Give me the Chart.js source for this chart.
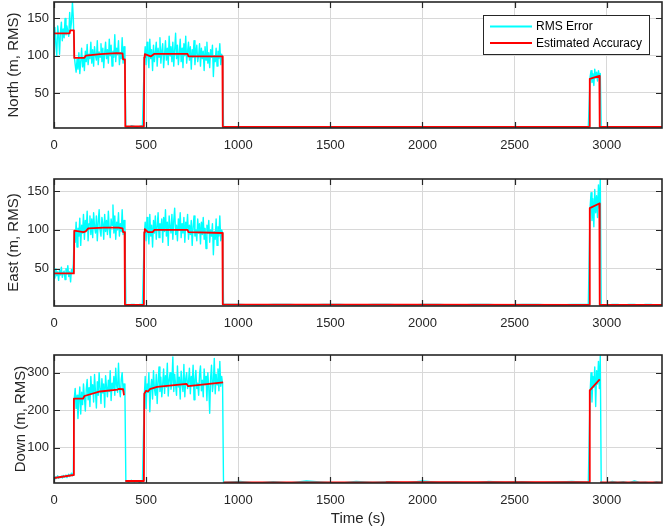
<!DOCTYPE html>
<html>
<head>
<meta charset="utf-8">
<title>Position error</title>
<script src="https://cdn.jsdelivr.net/npm/chart.js@4.4.1/dist/chart.umd.min.js"></script>
<style>
  html, body { margin: 0; padding: 0; background: #fff; }
  body { width: 663px; height: 529px; position: relative; overflow: hidden; }
  .panel { position: absolute; left: 0; width: 663px; }
</style>
</head>
<body>
<div class="panel" style="top:0;height:170px"><canvas id="north"></canvas></div>
<div class="panel" style="top:170px;height:170px"><canvas id="east"></canvas></div>
<div class="panel" style="top:340px;height:189px"><canvas id="down"></canvas></div>
<script>
// sample timeline (s): each RMS block starts at segStart[k] and is spaced segStep[k]
const segStart = [0, 110, 390, 490, 920, 2910, 2970];
const segStep = [5, 5, 15, 5, 90, 5, 30];

const timeTicks = [0, 500, 1000, 1500, 2000, 2500, 3000];
const northTicks = [50, 100, 150];
const eastTicks = [50, 100, 150];
const downTicks = [100, 200, 300];

// ---- North ----
const northRmsA = [122, 138, 115, 100, 140, 128, 102, 132, 145, 120, 136, 124, 150, 128, 140, 132, 126, 158, 135, 145, 172, 150];
const northRmsB = [100, 88, 78, 95, 82, 104, 76, 92, 110, 85, 98, 80, 106, 92, 115, 88, 102, 96, 118, 90,
  108, 86, 112, 100, 94, 120, 88, 105, 98, 116, 92, 110, 84, 104, 118, 96, 108, 90, 122, 100,
  114, 86, 106, 98, 128, 92, 110, 102, 120, 88, 104, 96, 124, 90, 112, 86];
const northRmsC = [95, 112, 88, 118, 100, 84, 122, 96, 108, 80, 114, 92, 104, 118, 86, 110, 98, 124, 90, 106,
  116, 84, 102, 120, 94, 110, 88, 126, 100, 112, 92, 118, 86, 108, 130, 96, 114, 88, 104, 122,
  92, 110, 84, 116, 100, 126, 90, 106, 118, 94, 112, 82, 108, 98, 120, 88, 104, 114, 92, 100,
  116, 86, 110, 96, 106, 80, 112, 94, 118, 90, 104, 84, 108, 98, 114, 72, 100, 92, 110, 86,
  106, 96, 116, 88, 102, 94];
const northRmsD = [72, 80, 64, 76, 60, 82, 70, 78, 66, 80, 74, 76];
const northFloor1 = [5, 4, 6, 5, 4, 5, 6];
const northFloor2 = [4, 3, 4, 3, 3, 4, 3, 4, 3, 3, 4, 3, 4, 3, 3, 4, 3, 4, 3, 3, 4, 3, 4];
const northFloor3 = [4, 3, 4, 3, 3, 4, 3, 4, 3, 3, 4, 3];
const northAccT = [0, 85, 88, 108, 110, 165, 172, 250, 340, 372, 375, 385, 387, 488, 490, 493, 525, 545, 725, 730, 914, 916, 2906, 2908, 2960, 2962, 3300];
const northAccV = [130, 130, 134, 134, 97, 97, 100, 102, 103.5, 103, 95, 95, 5, 5, 98, 102, 99, 102.5, 102.5, 99, 99, 4.5, 4.5, 69, 73, 4.5, 4.5];

// ---- East ----
const eastRmsA = [44, 38, 50, 41, 46, 35, 48, 42, 52, 39, 45, 47, 36, 50, 43, 54, 40, 46, 33, 49, 44, 56];
const eastRmsB = [98, 84, 110, 78, 102, 92, 115, 80, 106, 96, 120, 88, 112, 100, 124, 86, 108, 118, 94, 114,
  90, 122, 104, 96, 118, 86, 110, 126, 100, 92, 116, 108, 88, 120, 98, 112, 94, 124, 102, 90,
  114, 106, 132, 96, 118, 88, 110, 100, 122, 92, 108, 98, 126, 94, 112, 104];
const eastRmsC = [94, 110, 86, 116, 98, 82, 120, 92, 106, 78, 112, 96, 118, 88, 104, 122, 90, 108, 100, 114,
  84, 116, 98, 126, 92, 110, 80, 118, 104, 96, 120, 88, 112, 128, 94, 106, 86, 114, 100, 122,
  90, 108, 96, 116, 84, 110, 102, 120, 88, 106, 94, 112, 80, 104, 118, 92, 100, 86, 114, 96,
  108, 82, 110, 94, 116, 88, 102, 76, 106, 96, 112, 84, 100, 92, 108, 68, 98, 88, 114, 80,
  104, 92, 118, 86, 100, 96];
const eastRmsD = [130, 148, 112, 140, 104, 152, 122, 144, 116, 158, 128, 165];
const eastFloor1 = [4, 3, 4, 4, 3, 4, 4];
const eastFloor2 = [4, 4, 3, 4, 4, 3, 4, 4, 3, 4, 4, 3, 4, 4, 3, 4, 4, 3, 4, 4, 3, 4, 4];
const eastFloor3 = [4, 3, 4, 4, 3, 4, 4, 3, 4, 4, 3, 4];
const eastAccT = [0, 108, 110, 160, 172, 186, 270, 350, 372, 375, 383, 385, 488, 490, 493, 510, 535, 545, 725, 730, 914, 916, 2906, 2908, 2960, 2962, 3300];
const eastAccV = [44, 44, 99, 97, 98, 102, 103, 103, 102, 97, 97, 3.5, 3.5, 97, 101, 97, 97, 100, 100, 97, 96, 4, 3.5, 128, 134, 3.5, 3.5];

// ---- Down ----
const downRmsA = [20, 24, 18, 22, 26, 19, 23, 21, 25, 20, 27, 22, 24, 28, 21, 26, 30, 24, 28, 33, 26, 35];
const downRmsB = [232, 258, 205, 240, 178, 225, 262, 190, 248, 215, 270, 236, 198, 255, 282, 228, 260, 210, 290, 244,
  268, 222, 295, 250, 206, 276, 240, 300, 258, 218, 284, 246, 270, 208, 292, 262, 236, 280, 250, 305,
  226, 272, 258, 290, 240, 312, 266, 248, 325, 258, 236, 282, 300, 252, 270, 244];
const downRmsC = [236, 290, 205, 270, 248, 300, 196, 262, 282, 230, 305, 258, 240, 296, 218, 276, 315, 250, 288, 236,
  270, 310, 245, 292, 262, 325, 238, 280, 300, 256, 274, 342, 250, 296, 268, 240, 318, 262, 288, 230,
  304, 270, 250, 322, 236, 284, 300, 258, 276, 312, 244, 290, 266, 320, 228, 282, 306, 258, 272, 240,
  296, 318, 252, 280, 236, 310, 268, 290, 226, 300, 262, 192, 286, 320, 250, 274, 338, 244, 296, 268,
  310, 252, 330, 264, 290, 270];
const downRmsD = [250, 300, 222, 290, 262, 315, 210, 305, 270, 330, 258, 345];
const downFloor1 = [12, 9, 14, 10, 13, 8, 11];
const downFloor2 = [8, 11, 6, 10, 7, 12, 9, 6, 11, 8, 10, 7, 12, 8, 9, 6, 11, 8, 10, 7, 9, 11, 8];
const downFloor3 = [9, 6, 11, 8, 10, 7, 12, 8, 9, 6, 10, 8];
const downAccT = [0, 106, 108, 158, 165, 250, 345, 350, 375, 380, 385, 386, 387, 488, 490, 500, 510, 520, 560, 720, 728, 918, 919, 920, 1800, 1805, 2906, 2908, 2962, 2963, 2964, 3300];
const downAccV = [20, 28, 231, 231, 238, 250, 255, 257, 256, 240, 240, null, 12, 12, 244, 252, 250, 256, 262, 270, 264, 274, null, 8, 8, 9, 9, 253, 282, null, 8, 8];

const FONT = "'Liberation Sans', Arial, Helvetica, sans-serif";
const INK = '#262626';
const GRID = '#d8d8d8';

function segPoints(blocks) {
  const pts = [];
  blocks.forEach((vals, k) => {
    vals.forEach((v, i) => pts.push({ x: segStart[k] + i * segStep[k], y: v }));
  });
  return pts;
}

function pairs(ts, vs) {
  return ts.map((t, i) => ({ x: t, y: vs[i] }));
}

// axes box and inward tick marks, drawn over the data
const frame = {
  id: 'frame',
  afterDatasetsDraw(chart) {
    const { ctx, chartArea: a, scales: { x, y } } = chart;
    const len = 6;
    ctx.save();
    ctx.strokeStyle = INK;
    ctx.lineWidth = 1.2;
    ctx.beginPath();
    x.ticks.forEach(t => {
      const px = Math.round(x.getPixelForValue(t.value)) + 0.5;
      ctx.moveTo(px, a.bottom); ctx.lineTo(px, a.bottom - len);
      ctx.moveTo(px, a.top); ctx.lineTo(px, a.top + len);
    });
    y.ticks.forEach(t => {
      const py = Math.round(y.getPixelForValue(t.value)) + 0.5;
      ctx.moveTo(a.left, py); ctx.lineTo(a.left + len, py);
      ctx.moveTo(a.right, py); ctx.lineTo(a.right - len, py);
    });
    ctx.stroke();
    ctx.lineWidth = 1.6;
    ctx.strokeRect(a.left, a.top, a.right - a.left, a.bottom - a.top);
    ctx.restore();
  }
};

// boxed legend in the upper right corner of the plot area
const legendBox = {
  id: 'legendBox',
  afterDraw(chart, args, opts) {
    if (!opts.show) return;
    const { ctx, chartArea: a } = chart;
    const w = 166, h = 39;
    const left = a.right - 13 - w, top = a.top + 13;
    const items = [...chart.data.datasets].sort((p, q) => q.order - p.order);
    ctx.save();
    ctx.fillStyle = '#fff';
    ctx.fillRect(left, top, w, h);
    ctx.strokeStyle = INK;
    ctx.lineWidth = 1;
    ctx.strokeRect(left + 0.5, top + 0.5, w, h);
    ctx.font = '12px ' + FONT;
    ctx.textBaseline = 'middle';
    items.forEach((ds, i) => {
      const cy = top + 11.5 + i * 16.5;
      ctx.strokeStyle = ds.borderColor;
      ctx.lineWidth = 2;
      ctx.beginPath();
      ctx.moveTo(left + 7, cy);
      ctx.lineTo(left + 49, cy);
      ctx.stroke();
      ctx.fillStyle = '#000';
      ctx.fillText(ds.label, left + 53, cy + 0.5);
    });
    ctx.restore();
  }
};

function makePanel(id, cfg) {
  return new Chart(document.getElementById(id), {
    type: 'line',
    data: {
      datasets: [
        { label: 'Estimated Accuracy', data: pairs(cfg.accT, cfg.accV), borderColor: '#ff0000', borderWidth: 1.8, order: 0 },
        { label: 'RMS Error', data: segPoints(cfg.rms), borderColor: '#00ffff', borderWidth: 1.4, order: 1 }
      ]
    },
    options: {
      responsive: true,
      maintainAspectRatio: false,
      animation: false,
      events: [],
      layout: { padding: { left: 0, right: 1, top: cfg.top, bottom: 0 } },
      elements: { point: { radius: 0 }, line: { tension: 0, borderJoinStyle: 'round' } },
      plugins: { legend: { display: false }, tooltip: { enabled: false }, legendBox: { show: !!cfg.legend } },
      scales: {
        x: {
          type: 'linear',
          min: 0,
          max: 3300,
          afterBuildTicks: s => { s.ticks = timeTicks.map(v => ({ value: v })); },
          afterFit: s => { s.height = cfg.xh; s.paddingLeft = 0; s.paddingRight = 0; },
          grid: { color: GRID, lineWidth: 1, drawTicks: false },
          border: { display: false },
          ticks: { color: INK, padding: 10, maxRotation: 0, font: { family: FONT, size: 13 }, callback: v => String(v) },
          title: {
            display: !!cfg.xTitle,
            text: cfg.xTitle || '',
            color: INK,
            padding: { top: 0, bottom: 1 },
            font: { family: FONT, size: 15 }
          }
        },
        y: {
          min: cfg.range[0],
          max: cfg.range[1],
          afterBuildTicks: s => { s.ticks = cfg.ticks.map(v => ({ value: v })); },
          afterFit: s => { s.width = 54; s.paddingTop = 0; s.paddingBottom = 0; },
          grid: { color: GRID, lineWidth: 1, drawTicks: false },
          border: { display: false },
          ticks: { color: INK, padding: 5, font: { family: FONT, size: 13 }, callback: v => String(v) },
          title: {
            display: true,
            text: cfg.yTitle,
            color: INK,
            padding: { top: cfg.titlePad, bottom: 0 },
            font: { family: FONT, size: 15 }
          }
        }
      }
    },
    plugins: [frame, legendBox]
  });
}

makePanel('north', {
  rms: [northRmsA, northRmsB, northFloor1, northRmsC, northFloor2, northRmsD, northFloor3],
  accT: northAccT, accV: northAccV,
  range: [3, 172], ticks: northTicks,
  yTitle: 'North (m, RMS)', titlePad: 5,
  top: 2, xh: 42, legend: true
});

makePanel('east', {
  rms: [eastRmsA, eastRmsB, eastFloor1, eastRmsC, eastFloor2, eastRmsD, eastFloor3],
  accT: eastAccT, accV: eastAccV,
  range: [2, 165.5], ticks: eastTicks,
  yTitle: 'East (m, RMS)', titlePad: 5,
  top: 9, xh: 34
});

makePanel('down', {
  rms: [downRmsA, downRmsB, downFloor1, downRmsC, downFloor2, downRmsD, downFloor3],
  accT: downAccT, accV: downAccV,
  range: [6.7, 347], ticks: downTicks,
  yTitle: 'Down (m, RMS)', titlePad: 12,
  top: 15, xh: 46, xTitle: 'Time (s)'
});
</script>
</body>
</html>
